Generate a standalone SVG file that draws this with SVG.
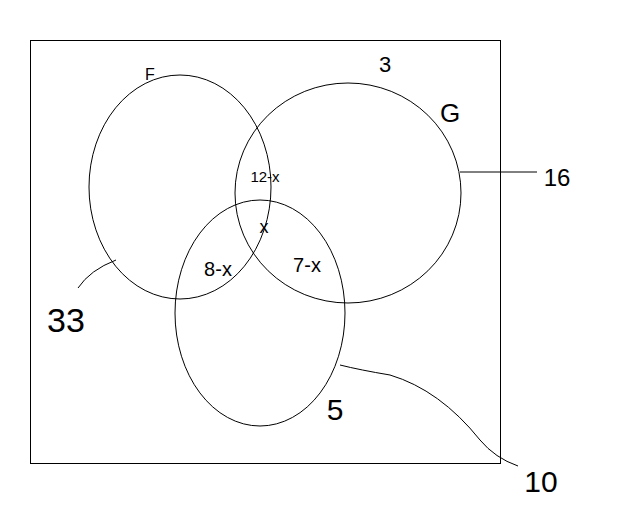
<svg xmlns="http://www.w3.org/2000/svg" width="640" height="512" viewBox="0 0 640 512">
<style>
.s{fill:none;stroke:#000;stroke-width:1}
.t{font-family:"Liberation Sans",sans-serif;fill:#000;text-anchor:middle}
</style>
<rect width="640" height="512" fill="#fff"/>
<rect class="s" x="30.5" y="40.5" width="470" height="423"/>
<g id="F"><ellipse class="s" cx="180" cy="187" rx="91" ry="112"/><text class="t" x="150" y="80" font-size="16">F</text></g>
<g id="G"><ellipse class="s" cx="348" cy="193" rx="113" ry="110"/><text class="t" x="450" y="122" font-size="26">G</text></g>
<g id="H"><ellipse class="s" cx="260" cy="313" rx="85" ry="113"/></g>
<g id="labels">
<text class="t" x="385" y="72" font-size="22">3</text>
<text class="t" x="557" y="186" font-size="24">16</text>
<text class="t" x="265" y="182" font-size="15">12-x</text>
<text class="t" x="264" y="233" font-size="18">x</text>
<text class="t" x="218" y="276" font-size="20">8-x</text>
<text class="t" x="307" y="272" font-size="20">7-x</text>
<text class="t" x="66" y="332" font-size="34">33</text>
<text class="t" x="335" y="420" font-size="30">5</text>
<text class="t" x="541" y="492" font-size="30">10</text>
</g>
<g id="connectors">
<path class="s" d="M460 172 L537 172"/>
<path class="s" d="M116 260 Q90 270 78 288"/>
<path class="s" d="M340 365 Q360 370 390 375 Q440 390 480 440 Q495 458 518 466"/>
</g>
</svg>
